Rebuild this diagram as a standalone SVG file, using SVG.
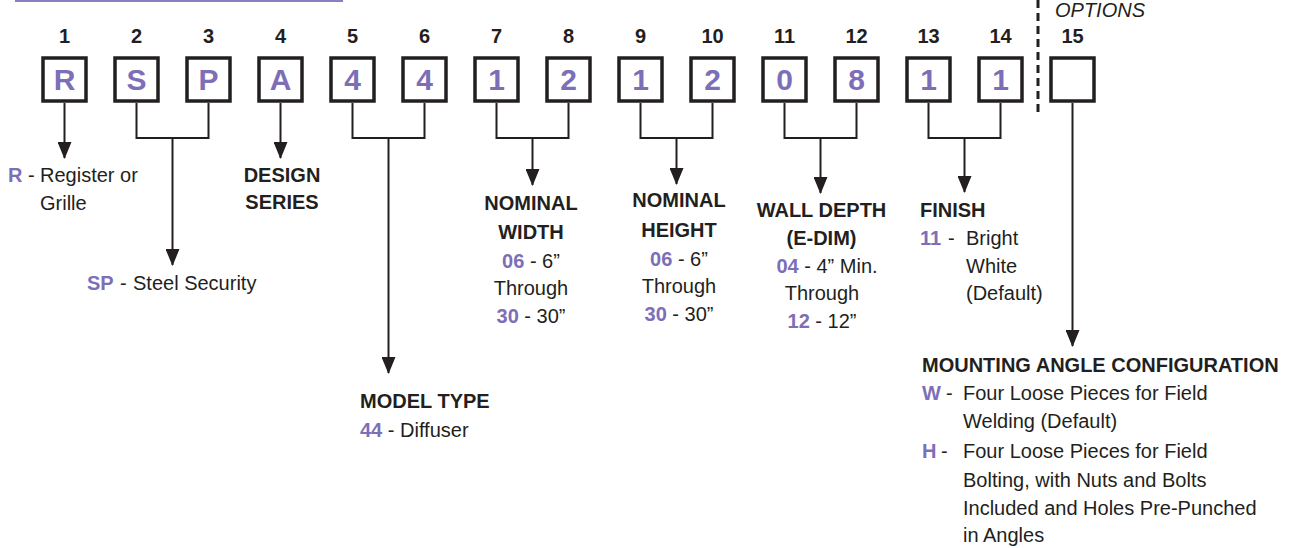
<svg xmlns="http://www.w3.org/2000/svg" width="1300" height="548" viewBox="0 0 1300 548">
<defs>
<style>
text{font-family:"Liberation Sans",Arial,Helvetica,sans-serif;fill:#231f20;}
.num{font-size:20px;font-weight:bold;text-anchor:middle;}
.let{font-size:30px;font-weight:bold;text-anchor:middle;fill:#7c6fb8;}
.box{fill:#fff;stroke:#231f20;stroke-width:3.5;}
.hd{font-size:20px;font-weight:bold;}
.tx{font-size:20px;}
.p{fill:#7c6fb8;font-weight:bold;}
.mid{text-anchor:middle;}
.con{fill:none;stroke:#231f20;stroke-width:2;}
</style>
<marker id="ad" markerUnits="userSpaceOnUse" markerWidth="17" markerHeight="14" refX="16" refY="7" orient="auto" viewBox="0 0 17 14">
<path d="M0,0 L17,7 L0,14 Z" fill="#231f20"/>
</marker>
</defs>
<rect width="1300" height="548" fill="#fff"/>
<line x1="15" y1="1" x2="343" y2="1" stroke="#8a80c0" stroke-width="2"/>
<line x1="1038" y1="0" x2="1038" y2="112" stroke="#231f20" stroke-width="3" stroke-dasharray="8 5"/>
<text id="options" x="1055" y="17" class="tx" font-style="italic">OPTIONS</text>

<g id="pos1"><text class="num" x="64.5" y="43">1</text><rect class="box" x="43" y="58" width="43" height="43"/><text class="let" x="64.5" y="90">R</text></g>
<g id="pos2"><text class="num" x="136.5" y="43">2</text><rect class="box" x="115" y="58" width="43" height="43"/><text class="let" x="136.5" y="90">S</text></g>
<g id="pos3"><text class="num" x="208.5" y="43">3</text><rect class="box" x="187" y="58" width="43" height="43"/><text class="let" x="208.5" y="90">P</text></g>
<g id="pos4"><text class="num" x="280.5" y="43">4</text><rect class="box" x="259" y="58" width="43" height="43"/><text class="let" x="280.5" y="90">A</text></g>
<g id="pos5"><text class="num" x="352.5" y="43">5</text><rect class="box" x="331" y="58" width="43" height="43"/><text class="let" x="352.5" y="90">4</text></g>
<g id="pos6"><text class="num" x="424.5" y="43">6</text><rect class="box" x="403" y="58" width="43" height="43"/><text class="let" x="424.5" y="90">4</text></g>
<g id="pos7"><text class="num" x="496.5" y="43">7</text><rect class="box" x="475" y="58" width="43" height="43"/><text class="let" x="496.5" y="90">1</text></g>
<g id="pos8"><text class="num" x="568.5" y="43">8</text><rect class="box" x="547" y="58" width="43" height="43"/><text class="let" x="568.5" y="90">2</text></g>
<g id="pos9"><text class="num" x="640.5" y="43">9</text><rect class="box" x="619" y="58" width="43" height="43"/><text class="let" x="640.5" y="90">1</text></g>
<g id="pos10"><text class="num" x="712.5" y="43">10</text><rect class="box" x="691" y="58" width="43" height="43"/><text class="let" x="712.5" y="90">2</text></g>
<g id="pos11"><text class="num" x="784.5" y="43">11</text><rect class="box" x="763" y="58" width="43" height="43"/><text class="let" x="784.5" y="90">0</text></g>
<g id="pos12"><text class="num" x="856.5" y="43">12</text><rect class="box" x="835" y="58" width="43" height="43"/><text class="let" x="856.5" y="90">8</text></g>
<g id="pos13"><text class="num" x="928.5" y="43">13</text><rect class="box" x="907" y="58" width="43" height="43"/><text class="let" x="928.5" y="90">1</text></g>
<g id="pos14"><text class="num" x="1000.5" y="43">14</text><rect class="box" x="979" y="58" width="43" height="43"/><text class="let" x="1000.5" y="90">1</text></g>
<g id="pos15"><text class="num" x="1072.5" y="43">15</text><rect class="box" x="1051" y="58" width="43" height="43"/></g>

<g id="connectors">
<path class="con" d="M64.5,103 V158" marker-end="url(#ad)"/>
<path class="con" d="M136.5,103 V138 H208.5 V103"/>
<path class="con" d="M172.5,138 V265" marker-end="url(#ad)"/>
<path class="con" d="M280.5,103 V158" marker-end="url(#ad)"/>
<path class="con" d="M352.5,103 V138 H424.5 V103"/>
<path class="con" d="M388.5,138 V373" marker-end="url(#ad)"/>
<path class="con" d="M496.5,103 V138 H568.5 V103"/>
<path class="con" d="M532.5,138 V185" marker-end="url(#ad)"/>
<path class="con" d="M640.5,103 V138 H712.5 V103"/>
<path class="con" d="M676.5,138 V184" marker-end="url(#ad)"/>
<path class="con" d="M784.5,103 V138 H856.5 V103"/>
<path class="con" d="M820.5,138 V193" marker-end="url(#ad)"/>
<path class="con" d="M928.5,103 V138 H1000.5 V103"/>
<path class="con" d="M964.5,138 V192" marker-end="url(#ad)"/>
<path class="con" d="M1072.5,103 V346" marker-end="url(#ad)"/>
</g>

<g id="lbl-type">
<text class="tx" x="8" y="182"><tspan class="p">R</tspan></text>
<text class="tx" x="28" y="182">-</text>
<text class="tx" x="40" y="182">Register or</text>
<text class="tx" x="40" y="210">Grille</text>
</g>
<g id="lbl-sp">
<text class="tx" x="87" y="290"><tspan class="p">SP</tspan></text>
<text class="tx" x="120" y="290">-</text>
<text class="tx" x="133" y="290">Steel Security</text>
</g>
<g id="lbl-design">
<text class="hd mid" x="282" y="182">DESIGN</text>
<text class="hd mid" x="282" y="209">SERIES</text>
</g>
<g id="lbl-model">
<text class="hd" x="360" y="408">MODEL TYPE</text>
<text class="tx" x="360" y="437"><tspan class="p">44</tspan> - Diffuser</text>
</g>
<g id="lbl-width">
<text class="hd mid" x="531" y="210">NOMINAL</text>
<text class="hd mid" x="531" y="239">WIDTH</text>
<text class="tx mid" x="531" y="268"><tspan class="p">06</tspan> - 6”</text>
<text class="tx mid" x="531" y="295">Through</text>
<text class="tx mid" x="531" y="323"><tspan class="p">30</tspan> - 30”</text>
</g>
<g id="lbl-height">
<text class="hd mid" x="679" y="207">NOMINAL</text>
<text class="hd mid" x="679" y="237">HEIGHT</text>
<text class="tx mid" x="679" y="266"><tspan class="p">06</tspan> - 6”</text>
<text class="tx mid" x="679" y="293">Through</text>
<text class="tx mid" x="679" y="321"><tspan class="p">30</tspan> - 30”</text>
</g>
<g id="lbl-depth">
<text class="hd mid" x="821.5" y="217">WALL DEPTH</text>
<text class="hd mid" x="821.5" y="245">(E-DIM)</text>
<text class="tx mid" x="827" y="273"><tspan class="p">04</tspan> - 4” Min.</text>
<text class="tx mid" x="822" y="300">Through</text>
<text class="tx mid" x="822" y="328"><tspan class="p">12</tspan> - 12”</text>
</g>
<g id="lbl-finish">
<text class="hd" x="920" y="217">FINISH</text>
<text class="tx" x="920" y="245"><tspan class="p">11</tspan></text>
<text class="tx" x="948" y="245">-</text>
<text class="tx" x="966" y="245">Bright</text>
<text class="tx" x="966" y="273">White</text>
<text class="tx" x="966" y="300">(Default)</text>
</g>
<g id="lbl-mounting">
<text class="hd" x="922" y="372">MOUNTING ANGLE CONFIGURATION</text>
<text class="tx" x="922" y="400"><tspan class="p">W</tspan></text>
<text class="tx" x="946" y="400">-</text>
<text class="tx" x="963" y="400">Four Loose Pieces for Field</text>
<text class="tx" x="963" y="428">Welding (Default)</text>
<text class="tx" x="922" y="458"><tspan class="p">H</tspan></text>
<text class="tx" x="941" y="458">-</text>
<text class="tx" x="963" y="458">Four Loose Pieces for Field</text>
<text class="tx" x="963" y="487">Bolting, with Nuts and Bolts</text>
<text class="tx" x="963" y="515">Included and Holes Pre-Punched</text>
<text class="tx" x="963" y="542">in Angles</text>
</g>
</svg>
